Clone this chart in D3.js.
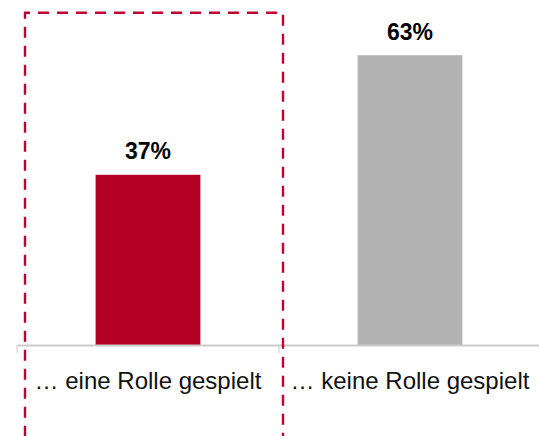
<!DOCTYPE html>
<html>
<head>
<meta charset="utf-8">
<script src="https://cdn.jsdelivr.net/npm/d3@7"></script>
<style>
  html, body { margin: 0; padding: 0; background: #ffffff; }
  svg { display: block; }
</style>
</head>
<body>
<script>
// Chart data
const categories = ["… eine Rolle gespielt", "… keine Rolle gespielt"];
const values = [37, 63];
const valueLabels = ["37%", "63%"];
const barColors = ["#b30024", "#b2b2b2"];

const width = 539, height = 436;
const baseY = 345;

const svg = d3.select("body").append("svg")
  .attr("width", width)
  .attr("height", height);

// Category slots span the full axis; bars take 40% of each slot, centered
const x = d3.scaleBand().domain(categories).range([17, 541]).paddingInner(0).paddingOuter(0);
const barW = x.bandwidth() * 0.4;

const y = d3.scaleLinear().domain([0, 100]).range([baseY, baseY - 460]);

// Bars
svg.selectAll("rect.bar")
  .data(values)
  .join("rect")
  .attr("class", "bar")
  .attr("x", (d, i) => x(categories[i]) + (x.bandwidth() - barW) / 2)
  .attr("y", d => y(d))
  .attr("width", barW)
  .attr("height", d => y(0) - y(d))
  .attr("fill", (d, i) => barColors[i]);

// Value labels above bars
svg.selectAll("text.val")
  .data(values)
  .join("text")
  .attr("class", "val")
  .attr("x", (d, i) => x(categories[i]) + x.bandwidth() / 2)
  .attr("y", d => y(d) - 15.5)
  .attr("text-anchor", "middle")
  .attr("font-family", "'Liberation Sans', Arial, sans-serif")
  .attr("font-weight", "bold")
  .attr("font-size", 23)
  .attr("fill", "#000")
  .text((d, i) => valueLabels[i]);

// Category axis: baseline with tick marks between categories
const axis = d3.axisBottom(x).tickSize(0).tickFormat("");
const gAxis = svg.append("g").attr("transform", `translate(0,${baseY})`).call(axis);
gAxis.select(".domain").attr("stroke", "#cccccc").attr("stroke-width", 2);

const bounds = categories.map(c => x(c)).concat([x.range()[1]]);
gAxis.selectAll("line.sep")
  .data(bounds)
  .join("line")
  .attr("class", "sep")
  .attr("x1", d => d).attr("x2", d => d)
  .attr("y1", 0).attr("y2", 8)
  .attr("stroke", "#c8c8c8")
  .attr("stroke-width", 1);

// Category labels
svg.selectAll("text.cat")
  .data(categories)
  .join("text")
  .attr("class", "cat")
  .attr("x", d => x(d) + x.bandwidth() / 2)
  .attr("y", 388.5)
  .attr("text-anchor", "middle")
  .attr("font-family", "'Liberation Sans', Arial, sans-serif")
  .attr("font-size", 24)
  .attr("fill", "#111")
  .text(d => d);

// Dashed highlight frame around the first category (open at the bottom)
const fx0 = 25, fx1 = 283, fy0 = 12.7, fy1 = 450;
svg.append("path")
  .attr("d", `M${fx0},${fy1} L${fx0},${fy0} L${fx1},${fy0} L${fx1},${fy1}`)
  .attr("fill", "none")
  .attr("stroke", "#c0002e")
  .attr("stroke-width", 2.4)
  .attr("stroke-dasharray", "11,8")
  .attr("stroke-dashoffset", 5.7);
</script>
</body>
</html>
